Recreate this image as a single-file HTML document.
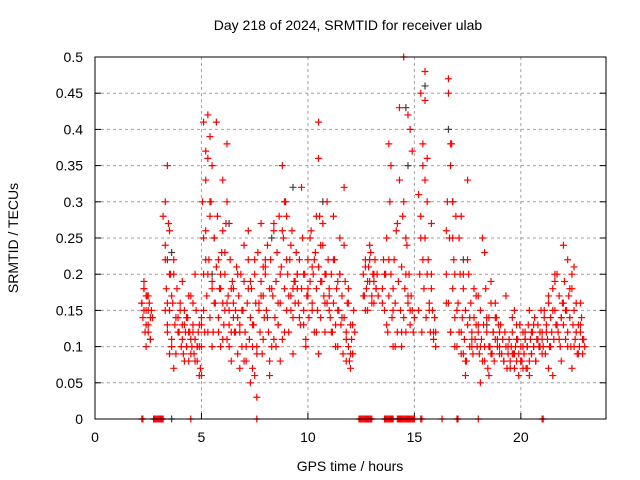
<!DOCTYPE html>
<html><head><meta charset="utf-8"><style>
body{margin:0;background:#fff}
svg{display:block;font-family:"Liberation Sans",sans-serif}
</style></head><body>
<svg id="chart" width="640" height="480">
<text x="348" y="30" font-size="14" text-anchor="middle">Day 218 of 2024, SRMTID for receiver ulab</text>
<text x="350" y="471" font-size="14" text-anchor="middle">GPS time / hours</text>
<text x="18" y="238" font-size="14" text-anchor="middle" transform="rotate(-90 18 238)">SRMTID / TECUs</text>
<g id="grid"></g><g id="ticks"></g><g id="gray"></g><g id="red"></g>
<rect x="95" y="57" width="511" height="362" fill="none" stroke="#000" stroke-width="1"/>
</svg>
<script>
const xTicks=[0,5,10,15,20];
const yTicks=[0,0.05,0.1,0.15,0.2,0.25,0.3,0.35,0.4,0.45,0.5];
const yLabels=["0","0.05","0.1","0.15","0.2","0.25","0.3","0.35","0.4","0.45","0.5"];
const redT=[2.2,2.3,2.3,2.4,2.4,2.5,2.5,2.6,2.6,2.3,2.5,2.4,
3.2,3.3,3.3,3.4,3.4,3.5,3.5,3.6,3.6,3.7,3.8,3.9,3.3,3.5,3.7,3.4,
4.0,4.1,4.2,4.3,4.4,4.5,4.6,4.7,4.8,4.9,4.1,4.3,4.5,4.7,4.9,4.2,4.6,4.4,4.8,
5.0,5.1,5.1,5.2,5.2,5.3,5.3,5.4,5.4,5.5,5.5,5.6,5.0,5.2,5.4,5.6,5.1,5.3,5.5,
5.7,5.8,5.9,6.0,6.1,6.2,6.3,6.4,6.5,5.8,6.0,6.2,6.4,5.9,6.1,6.3,6.0,6.2,
6.6,6.7,6.8,6.9,7.0,7.1,7.2,7.3,7.4,7.5,7.6,7.7,7.8,7.9,6.7,7.0,7.3,7.6,7.9,6.8,7.2,7.5,7.8,7.4,
8.0,8.1,8.2,8.3,8.4,8.5,8.6,8.7,8.8,8.9,9.0,9.1,9.2,9.3,9.4,8.2,8.6,8.9,9.0,9.2,8.4,8.8,9.3,9.5,8.7,
9.6,9.7,9.8,9.9,10.0,10.1,10.2,10.3,10.4,10.5,10.6,10.7,10.8,10.9,10.5,10.5,10.2,9.8,10.6,10.0,10.4,10.8,
11.0,11.1,11.2,11.3,11.4,11.5,11.6,11.7,11.8,11.9,12.0,12.1,11.2,11.5,11.8,12.0,11.4,11.7,11.9,
12.6,12.7,12.8,12.9,13.0,13.1,13.2,12.7,12.9,13.1,
13.5,13.6,13.7,13.8,13.9,14.0,14.1,14.2,13.8,14.0,14.5,14.3,14.4,14.5,14.6,14.7,14.8,14.9,14.6,14.7,14.4,14.8,
15.2,15.3,15.4,15.5,15.6,15.7,15.8,15.9,16.0,15.4,15.5,15.6,15.8,15.5,15.3,
16.5,16.6,16.7,16.8,16.9,16.6,16.7,16.8,16.7,16.5,16.9,
17.0,17.1,17.2,17.3,17.4,17.5,17.6,17.7,17.8,17.9,17.2,17.5,17.3,17.7,17.4,
18.0,18.1,18.2,18.3,18.4,18.5,18.6,18.7,18.8,18.9,18.3,18.6,18.8,18.1,18.5,
19.0,19.2,19.4,19.5,19.6,19.7,19.8,19.9,20.0,20.1,20.2,20.3,20.4,20.5,20.6,20.7,20.8,20.9,19.3,19.6,19.8,20.0,20.2,20.4,20.6,19.7,20.1,20.5,
21.0,21.1,21.2,21.3,21.4,21.5,21.6,21.7,21.8,21.9,22.0,22.1,22.2,22.3,22.4,22.5,22.6,22.7,22.8,22.9,21.5,21.6,21.9,22.2,22.5,22.8,21.3,22.0,22.4];
const redV=[0.16,0.19,0.15,0.13,0.17,0.12,0.15,0.14,0.11,0.18,0.17,0.1,
0.28,0.22,0.15,0.35,0.12,0.2,0.26,0.1,0.17,0.07,0.14,0.12,0.3,0.09,0.2,0.16,
0.15,0.11,0.13,0.1,0.17,0.09,0.12,0.08,0.1,0.06,0.19,0.14,0.11,0.2,0.13,0.08,0.16,0.12,0.1,
0.06,0.41,0.15,0.33,0.22,0.42,0.12,0.28,0.39,0.18,0.1,0.25,0.1,0.37,0.3,0.16,0.25,0.2,0.35,
0.41,0.12,0.2,0.26,0.15,0.38,0.1,0.18,0.14,0.22,0.11,0.3,0.08,0.18,0.23,0.13,0.33,0.16,
0.12,0.2,0.07,0.15,0.24,0.1,0.18,0.05,0.13,0.22,0.09,0.16,0.27,0.11,0.14,0.08,0.19,0.03,0.21,0.12,0.26,0.06,0.17,0.1,
0.22,0.14,0.08,0.18,0.27,0.1,0.16,0.2,0.35,0.12,0.28,0.17,0.24,0.09,0.19,0.06,0.13,0.3,0.22,0.15,0.11,0.26,0.18,0.2,0.08,
0.14,0.32,0.2,0.1,0.18,0.25,0.15,0.22,0.12,0.41,0.19,0.27,0.16,0.3,0.36,0.09,0.21,0.13,0.24,0.17,0.28,0.2,
0.17,0.12,0.22,0.1,0.19,0.25,0.14,0.32,0.08,0.16,0.07,0.13,0.28,0.2,0.11,0.09,0.15,0.24,0.18,
0.17,0.21,0.19,0.24,0.16,0.2,0.18,0.15,0.22,0.19,
0.16,0.2,0.13,0.22,0.35,0.18,0.1,0.27,0.38,0.15,0.5,0.43,0.12,0.3,0.2,0.42,0.15,0.37,0.25,0.17,0.1,0.4,
0.31,0.45,0.22,0.48,0.36,0.15,0.27,0.12,0.1,0.38,0.33,0.2,0.18,0.44,0.25,
0.26,0.47,0.38,0.3,0.2,0.45,0.12,0.25,0.35,0.16,0.1,
0.15,0.25,0.12,0.2,0.08,0.33,0.14,0.1,0.18,0.13,0.28,0.22,0.09,0.11,0.06,
0.17,0.1,0.25,0.08,0.14,0.06,0.19,0.12,0.16,0.11,0.23,0.09,0.14,0.05,0.1,
0.12,0.08,0.1,0.07,0.14,0.09,0.11,0.06,0.08,0.1,0.12,0.07,0.15,0.09,0.13,0.08,0.11,0.1,0.17,0.09,0.13,0.08,0.11,0.06,0.1,0.15,0.07,0.12,
0.09,0.14,0.12,0.17,0.1,0.15,0.2,0.13,0.11,0.08,0.24,0.15,0.1,0.18,0.07,0.21,0.12,0.09,0.16,0.11,0.06,0.19,0.14,0.22,0.1,0.13,0.07,0.16,0.2];
/* dense segments: start hour, step (hours), sampled values */
const segStart=[2.2,3.3,5.0,6.5,8.0,9.5,11.0,12.6,13.5,15.2,16.5,18.0,19.0,21.0];
const segStep=[0.05,0.05,0.05,0.05,0.05,0.05,0.05,0.05,0.05,0.05,0.05,0.05,0.05,0.05];
const segValues=[
[0.16,0.14,0.18,0.12,0.15,0.17,0.13,0.16,0.11,0.15,0.14],
[0.24,0.18,0.13,0.27,0.15,0.2,0.11,0.16,0.22,0.13,0.09,0.18,0.14,0.12,0.16,0.1,0.13,0.09,0.15,0.12,0.1,0.14,0.08,0.12,0.17,0.1,0.13,0.09,0.11,0.15,0.08,0.12,0.1,0.07,0.13],
[0.14,0.3,0.2,0.12,0.26,0.17,0.36,0.22,0.14,0.3,0.19,0.12,0.25,0.16,0.21,0.28,0.14,0.18,0.1,0.23,0.16,0.13,0.2,0.27,0.11,0.17,0.15,0.22,0.12,0.19,0.16],
[0.18,0.12,0.15,0.21,0.09,0.17,0.13,0.2,0.1,0.15,0.19,0.12,0.08,0.16,0.22,0.11,0.14,0.18,0.07,0.13,0.2,0.16,0.1,0.23,0.15,0.12,0.19,0.09,0.17,0.14,0.21],
[0.2,0.15,0.24,0.12,0.18,0.22,0.1,0.17,0.26,0.14,0.19,0.23,0.13,0.28,0.16,0.21,0.11,0.25,0.18,0.3,0.15,0.2,0.12,0.22,0.17,0.26,0.14,0.19,0.16,0.23,0.18],
[0.2,0.16,0.22,0.13,0.18,0.25,0.15,0.2,0.11,0.17,0.22,0.14,0.19,0.26,0.16,0.2,0.12,0.23,0.18,0.15,0.21,0.28,0.14,0.19,0.24,0.17,0.12,0.2,0.16,0.22,0.15],
[0.18,0.14,0.2,0.12,0.16,0.22,0.13,0.18,0.1,0.15,0.2,0.13,0.17,0.09,0.14,0.19,0.12,0.16,0.1,0.08,0.13,0.11,0.09,0.15,0.12],
[0.2,0.17,0.22,0.18,0.15,0.21,0.19,0.23,0.17,0.2,0.16,0.22,0.18,0.2,0.17],
[0.18,0.22,0.15,0.2,0.25,0.12,0.17,0.3,0.2,0.14,0.1,0.22,0.16,0.26,0.12,0.19,0.33,0.15,0.21,0.28,0.14,0.18,0.12,0.24,0.16,0.2,0.13,0.17,0.15,0.12,0.14],
[0.15,0.2,0.28,0.12,0.35,0.18,0.25,0.14,0.3,0.22,0.16,0.12,0.2,0.15,0.11,0.14,0.12],
[0.2,0.3,0.16,0.25,0.12,0.38,0.18,0.22,0.14,0.28,0.1,0.16,0.12,0.2,0.09,0.14,0.18,0.11,0.15,0.08,0.13,0.2,0.1,0.16,0.12,0.09,0.14,0.11,0.17,0.1,0.13],
[0.12,0.09,0.15,0.11,0.08,0.13,0.1,0.18,0.12,0.07,0.14,0.1,0.16,0.09,0.12,0.08,0.11,0.14,0.1,0.13,0.09],
[0.1,0.13,0.09,0.11,0.08,0.12,0.1,0.07,0.09,0.11,0.08,0.1,0.12,0.09,0.07,0.1,0.08,0.11,0.09,0.13,0.1,0.08,0.12,0.09,0.11,0.07,0.1,0.13,0.08,0.11,0.09,0.12,0.1,0.14,0.08,0.11,0.13,0.1,0.12,0.15,0.11],
[0.12,0.1,0.15,0.09,0.13,0.11,0.16,0.1,0.14,0.12,0.18,0.11,0.15,0.13,0.2,0.12,0.17,0.1,0.14,0.16,0.13,0.19,0.11,0.15,0.12,0.17,0.14,0.1,0.18,0.13,0.15,0.11,0.16,0.09,0.13,0.1,0.12,0.14,0.09,0.11,0.1]];
const grayT=[3.4,3.6,5.5,6.3,8.3,9.3,10.7,10.5,12.1,14.6,14.7,15.5,16.6,16.8,17.3,18.4,20.3,3.6];
const grayV=[0.22,0.23,0.2,0.27,0.25,0.32,0.3,0.21,0.09,0.43,0.35,0.46,0.4,0.3,0.22,0.13,0.1,0];
const zeroRedT=[2.2,2.25,2.75,2.8,2.85,2.9,2.95,3.0,3.05,3.1,3.15,3.2,4.5,7.6,12.4,12.45,12.5,12.55,12.6,12.65,12.7,12.75,12.8,12.85,12.9,12.95,13.0,13.6,13.65,13.7,13.75,13.8,13.85,13.9,13.95,14.0,14.2,14.25,14.3,14.35,14.4,14.45,14.5,14.55,14.6,14.65,14.7,14.75,14.8,14.85,14.9,14.95,15.0,15.3,15.35,16.3,17.0,17.05,18.0,21.0,21.05];
const NS="http://www.w3.org/2000/svg";
const X=t=>95+t*(511/24), Y=v=>419-v*724;
function el(tag,attrs,parent){const e=document.createElementNS(NS,tag);for(const k in attrs)e.setAttribute(k,attrs[k]);parent.appendChild(e);return e;}
const grid=document.getElementById('grid'),ticks=document.getElementById('ticks');
xTicks.forEach(t=>{
 if(t>0){const g=el('line',{x1:X(t),x2:X(t),y1:57,y2:419,stroke:'#a0a0a0','stroke-dasharray':'3,3'},grid);
 
 }
 el('line',{x1:X(t),x2:X(t),y1:419,y2:413,stroke:'#000'},ticks);
 const tx=el('text',{x:X(t),y:442,'font-size':14,'text-anchor':'middle'},ticks);tx.textContent=t;
 
 
});
yTicks.forEach((v,i)=>{
 if(v>0&&v<0.5){const g=el('line',{x1:95,x2:606,y1:Y(v),y2:Y(v),stroke:'#a0a0a0','stroke-dasharray':'3,3'},grid);
 
 }
 el('line',{x1:95,x2:101,y1:Y(v),y2:Y(v),stroke:'#000'},ticks);
 el('line',{x1:606,x2:600,y1:Y(v),y2:Y(v),stroke:'#000'},ticks);
 const tx=el('text',{x:83,y:Y(v)+5,'font-size':14,'text-anchor':'end'},ticks);tx.textContent=yLabels[i];
 
 
});
function plus(g,t,v,c){const x=X(t),y=Y(v);
 const p=el('path',{d:`M${x-3.5} ${y}H${x+3.5}M${x} ${y-3.5}V${y+3.5}`,stroke:c,'stroke-width':1.2,fill:'none'},g);
 
 }
const gg=document.getElementById('gray'),rg=document.getElementById('red');
grayT.forEach((t,i)=>plus(gg,t,grayV[i],'#404040'));
redT.forEach((t,i)=>plus(rg,t,redV[i],'#ff0000'));
segValues.forEach((vals,s)=>vals.forEach((v,i)=>plus(rg,segStart[s]+i*segStep[s],v,'#ff0000')));
zeroRedT.forEach(t=>plus(rg,t,0,'#ff0000'));
</script>
</body></html>
